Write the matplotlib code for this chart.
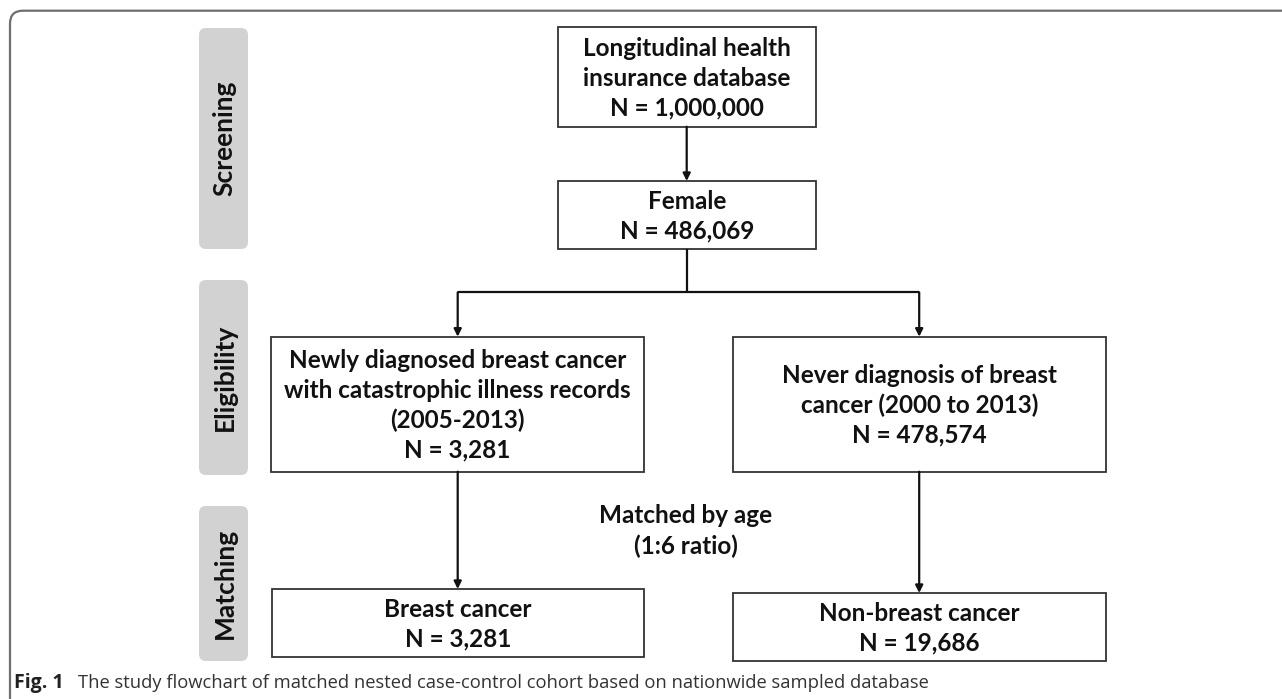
import matplotlib
matplotlib.use("Agg")
import matplotlib.pyplot as plt
from matplotlib.patches import FancyBboxPatch, Rectangle, FancyArrowPatch

# ---- data ----
phase_labels = ["Screening", "Eligibility", "Matching"]
box_titles = [
    "Longitudinal health\ninsurance database",
    "Female",
    "Newly diagnosed breast cancer\nwith catastrophic illness records\n(2005-2013)",
    "Never diagnosis of breast\ncancer (2000 to 2013)",
    "Breast cancer",
    "Non-breast cancer",
]
box_counts = ["1,000,000", "486,069", "3,281", "478,574", "3,281", "19,686"]
match_note = "Matched by age\n(1:6 ratio)"
caption_bold = "Fig. 1"
caption_text = "The study flowchart of matched nested case-control cohort based on nationwide sampled database"

# ---- layout (pixels) ----
W, H = 1282, 699
phase_boxes = [(199, 28, 49, 221), (199, 280, 49, 195), (199, 506, 49, 155)]
boxes = [
    (557.7, 27.3, 258, 99.4),
    (557.7, 181, 258, 68.3),
    (271.3, 336.7, 372.7, 135),
    (732.7, 336.7, 373, 135),
    (271.5, 589, 372.5, 68),
    (732.7, 593, 373, 68.3),
]

fig = plt.figure(figsize=(W / 100, H / 100), dpi=100)
ax = fig.add_axes([0, 0, 1, 1])
ax.set_xlim(0, W)
ax.set_ylim(H, 0)
ax.axis("off")

FONT = "Lato"
fs = 17.5
LS = 1.35

# outer frame
frame = FancyBboxPatch((10, 10.7), 1400, 800, boxstyle="round,pad=0,rounding_size=13",
                       fc="none", ec="#6e6e6e", lw=1.6)
ax.add_patch(frame)

# phase labels
for (x, y, w, h), lab in zip(phase_boxes, phase_labels):
    ax.add_patch(FancyBboxPatch((x, y), w, h, boxstyle="round,pad=0,rounding_size=7",
                                fc="#d2d2d3", ec="none"))
    ax.text(x + w / 2 + 1, y + h / 2, lab, rotation=90, ha="center", va="center",
            fontsize=19, fontweight="bold", family=FONT, color="#111111")

# boxes
for (x, y, w, h), title, n in zip(boxes, box_titles, box_counts):
    ax.add_patch(Rectangle((x, y), w, h, fc="white", ec="#333333", lw=1.3))
    ax.text(x + w / 2, y + h / 2 + 1, f"{title}\nN = {n}", ha="center", va="center",
            fontsize=fs, fontweight="bold", family=FONT, linespacing=LS, color="#111111")

def cx(b):
    return b[0] + b[2] / 2

def arrow(x0, y0, x1, y1):
    ax.add_patch(FancyArrowPatch((x0, y0), (x1, y1), arrowstyle="-|>", mutation_scale=11,
                                 lw=1.6, color="#111111", shrinkA=0, shrinkB=0))

def line(xs, ys):
    ax.plot(xs, ys, color="#111111", lw=1.6, solid_capstyle="butt")

b0, b1, b2, b3, b4, b5 = boxes
# top -> female
arrow(cx(b0), b0[1] + b0[3], cx(b1), b1[1])
# female -> split
ysplit = 292.3
line([cx(b1), cx(b1)], [b1[1] + b1[3], ysplit])
lx, rx = 457.7, 919.2
line([lx, rx], [ysplit, ysplit])
arrow(lx, ysplit, lx, b2[1])
arrow(rx, ysplit, rx, b3[1])
# eligibility -> matching
arrow(lx, b2[1] + b2[3], lx, b4[1])
arrow(rx, b3[1] + b3[3], rx, b5[1])

ax.text(686, 531, match_note, ha="center", va="center", fontsize=fs, fontweight="bold",
        family=FONT, linespacing=LS, color="#111111")

# caption
t = ax.text(14, 683, caption_bold, ha="left", va="center", fontsize=14, fontweight="bold",
            family="Open Sans", color="#222222")
ax.annotate(caption_text, xy=(1, 0.5), xycoords=t, xytext=(10, 0), textcoords="offset points",
            ha="left", va="center", fontsize=13.2, family="Open Sans", color="#333333")

fig.savefig("out.png", dpi=100)
